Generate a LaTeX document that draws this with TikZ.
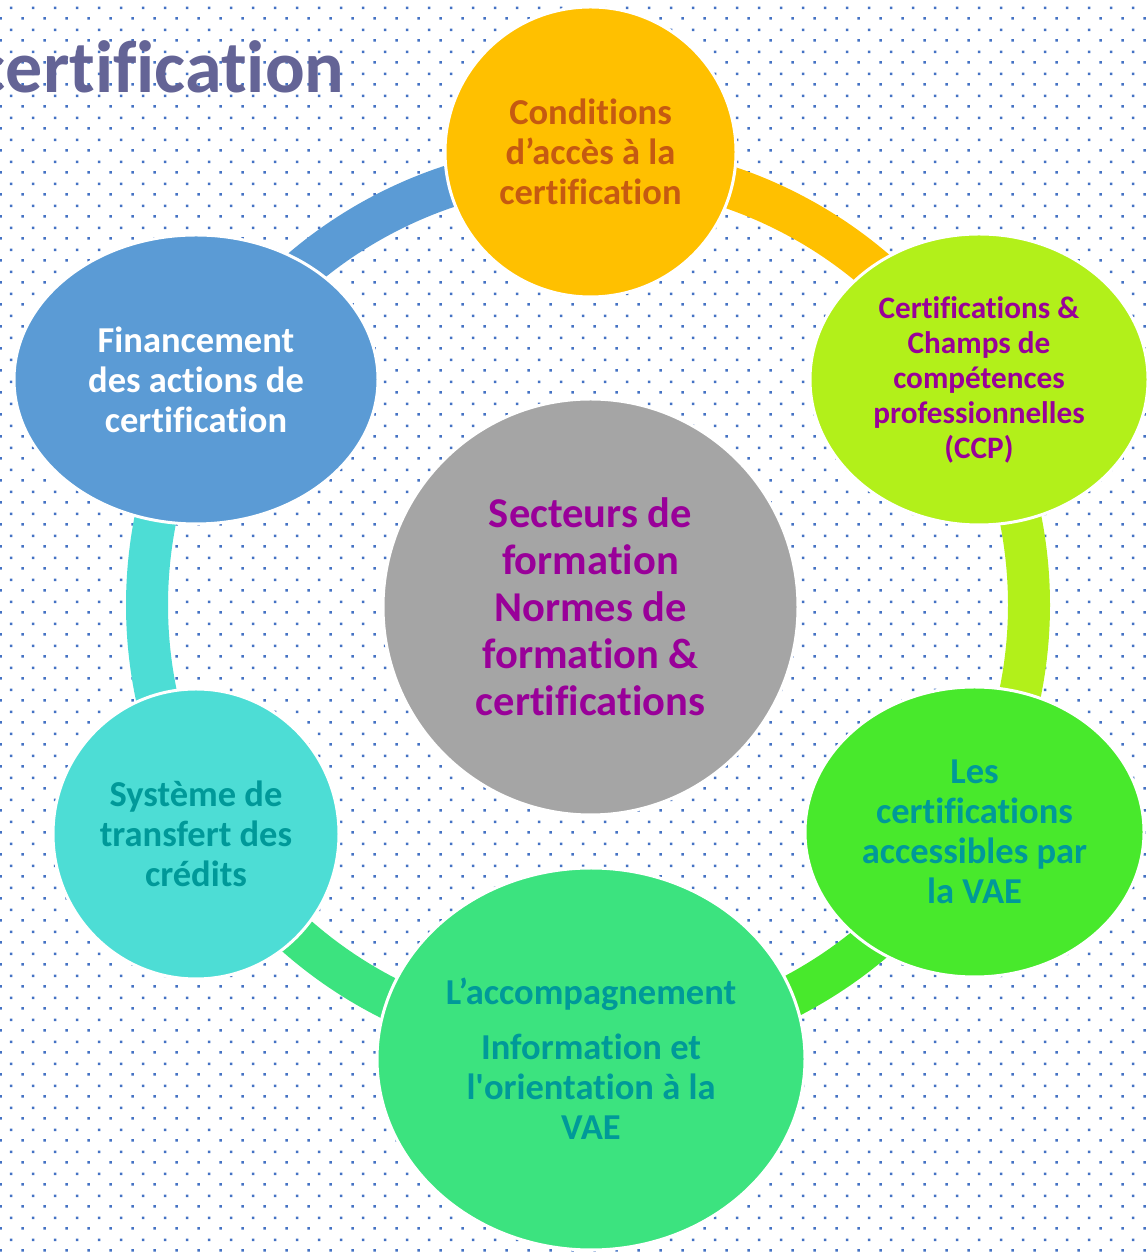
\documentclass[tikz,border=0pt]{standalone}
\usepackage{fontspec}
\setmainfont{Carlito}[Ligatures={TeX,NoCommon}]
\usepackage{tikz}
\usetikzlibrary{shapes.geometric,patterns,calc}

\definecolor{corange}{HTML}{FFC000}
\definecolor{clime}{HTML}{B2F01A}
\definecolor{cblue}{HTML}{5B9BD5}
\definecolor{cgray}{HTML}{A5A5A5}
\definecolor{cturq}{HTML}{4DDDD5}
\definecolor{cgreen}{HTML}{48E92C}
\definecolor{cmint}{HTML}{3CE37F}
\definecolor{torange}{HTML}{C55A11}
\definecolor{tpurple}{HTML}{990099}
\definecolor{tteal}{HTML}{009999}
\definecolor{ctitle}{HTML}{646496}
\definecolor{dotblue}{HTML}{4472C4}

\pgfdeclarepatternformonly{dotgrid}{\pgfqpoint{0pt}{0pt}}{\pgfqpoint{11pt}{11pt}}{\pgfqpoint{11pt}{11pt}}{%
  \pgfpathrectangle{\pgfqpoint{0.2pt}{0.2pt}}{\pgfqpoint{1.3pt}{1.3pt}}%
  \pgfpathrectangle{\pgfqpoint{5.7pt}{5.7pt}}{\pgfqpoint{1.3pt}{1.3pt}}%
  \pgfusepath{fill}}

\begin{document}
\begin{tikzpicture}[x=0.5pt,y=0.5pt,
  bubble/.style={ellipse, draw=white, line width=1.5pt, inner sep=0pt, align=center, font=\bfseries\fontsize{18.25}{20}\selectfont},
  ringarc/.style={line width=21pt}]

% BACKGROUND
\useasboundingbox (0,0) rectangle (1146,1252);
\fill[white] (0,0) rectangle (1146,1252);
\fill[pattern=dotgrid, pattern color=dotblue] (0,0) rectangle (1146,1252);

% RING
\coordinate (ring) at (588,647);
\foreach \a/\c in {150/cblue, 90/corange, 30/clime, -30/cgreen, -90/cmint, -150/cturq}
  \draw[ringarc, \c] ($(ring)+(\a:441)$) arc[start angle=\a, end angle=\a-60, radius=441];

% BUBBLES
\node[bubble, fill=corange, text=torange, minimum width=145.5pt, minimum height=145pt] (conditions) at (590.5,1100)
  {Conditions\\d’accès à la\\certification};
\node[bubble, fill=clime, text=tpurple, minimum width=169pt, minimum height=145.5pt, font=\bfseries\fontsize{15.6}{17.5}\selectfont] (ccp) at (979,872.5)
  {Certifications \&\\Champs de\\compétences\\professionnelles\\(CCP)};
\node[bubble, fill=cblue, text=white, minimum width=182pt, minimum height=144.5pt] (financement) at (196,872.5)
  {Financement\\des actions de\\certification};
\node[bubble, fill=cgray, text=tpurple, minimum width=207.5pt, minimum height=208pt, font=\bfseries\fontsize{21.25}{23.5}\selectfont] (secteurs) at (590.5,645)
  {Secteurs de\\formation\\Normes de\\formation \&\\certifications};
\node[bubble, fill=cturq, text=tteal, minimum width=143pt, minimum height=145pt] (transfert) at (196,418)
  {Système de\\transfert des\\crédits};
\node[bubble, fill=cgreen, text=tteal, minimum width=169.5pt, minimum height=145pt] (vae) at (974.5,420)
  {Les\\certifications\\accessibles par\\la VAE};
\node[bubble, fill=cmint, text=tteal, minimum width=214pt, minimum height=191pt] (accompagnement) at (591,193)
  {L’accompagnement\\[7.5pt]Information et\\l\textquotesingle orientation à la\\VAE};

% TITLE
\node[anchor=base east, inner sep=0pt, text=ctitle, font=\bfseries\fontsize{37}{44}\selectfont] (titre) at (345,1159) {certification};

\end{tikzpicture}
\end{document}
